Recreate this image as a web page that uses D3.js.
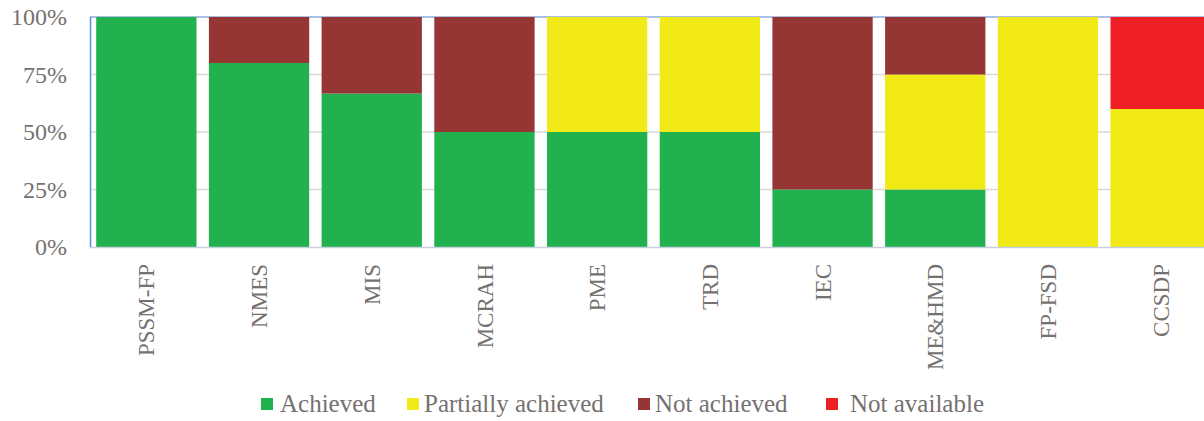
<!DOCTYPE html>
<html><head><meta charset="utf-8">
<script src="https://cdn.jsdelivr.net/npm/d3@7"></script>
<style>body{margin:0;background:#fff}svg{display:block}</style>
</head><body><svg id="c" width="1204" height="421"></svg>
<script>
const categories = ["PSSM-FP","NMES","MIS","MCRAH","PME","TRD","IEC","ME&HMD","FP-FSD","CCSDP"];
const seriesNames = ["Achieved","Partially achieved","Not achieved","Not available"];
const achieved = [100, 80, 66.7, 50, 50, 50, 25, 25, 0, 0];
const partiallyAchieved = [0, 0, 0, 0, 50, 50, 0, 50, 100, 60];
const notAchieved = [0, 20, 33.3, 50, 0, 0, 75, 25, 0, 0];
const notAvailable = [0, 0, 0, 0, 0, 0, 0, 0, 0, 40];
const yTicks = [0, 25, 50, 75, 100];
const colors = ["#21b14e","#f2ea16","#963634","#ee1f25"];

const svg = d3.select("#c");
const font = "'Liberation Serif', serif";
const m = {left: 90, top: 17};
const W = 1127, H = 230;
const g = svg.append("g").attr("transform", `translate(${m.left},${m.top})`);

const x = d3.scaleBand().domain(categories).range([0, W]).paddingInner(0.11).paddingOuter(0.055);
const y = d3.scaleLinear().domain([0, 100]).range([H, 0]);

const rows = categories.map((c, i) => ({cat: c, "Achieved": achieved[i], "Partially achieved": partiallyAchieved[i], "Not achieved": notAchieved[i], "Not available": notAvailable[i]}));
const stack = d3.stack().keys(seriesNames)(rows);

// gridlines
g.append("g").selectAll("line").data(yTicks.filter(t => t > 0)).join("line")
  .attr("x1", 0).attr("x2", W).attr("y1", d => y(d)).attr("y2", d => y(d))
  .attr("stroke", d => d === 100 ? "#8faadc" : "#d9d9d9").attr("stroke-width", d => d === 100 ? 1.5 : 1.3);

g.append("g").selectAll("g").data(stack).join("g")
  .attr("fill", (d, i) => colors[i])
  .selectAll("rect").data(d => d.filter(s => s[1] - s[0] > 0)).join("rect")
  .attr("x", d => x(d.data.cat)).attr("width", x.bandwidth())
  .attr("y", d => y(d[1])).attr("height", d => y(d[0]) - y(d[1]));

// axes lines
g.append("line").attr("x1", 0).attr("x2", W).attr("y1", H + 0.5).attr("y2", H + 0.5).attr("stroke", "#c5cfdf").attr("stroke-width", 1.5);
g.append("line").attr("x1", 0.5).attr("x2", 0.5).attr("y1", 0).attr("y2", H).attr("stroke", "#5b8fd6").attr("stroke-width", 1.5);

// y tick labels
const yAxis = d3.axisLeft(y).tickValues(yTicks).tickFormat(d => d + "%").tickSize(0).tickPadding(23);
const ya = g.append("g").call(yAxis);
ya.select(".domain").remove();
ya.selectAll("text").attr("font-family", font).attr("font-size", 24).attr("fill", "#767171").attr("dy", "0.32em");

// x labels
const xAxis = d3.axisBottom(x).tickSize(0);
const xa = g.append("g").attr("transform", `translate(0,${H})`).call(xAxis);
xa.select(".domain").remove();
xa.selectAll("text").attr("font-family", font).attr("font-size", 23).attr("fill", "#767171")
  .attr("text-anchor", "end").attr("transform", "rotate(-90)").attr("x", -17).attr("y", 0).attr("dy", "0.35em");

// legend
const legX = [261, 407, 638, 826];
const textX = [280, 424, 655, 850];
const leg = svg.append("g");
seriesNames.forEach((s, i) => {
  leg.append("rect").attr("x", legX[i]).attr("y", 398).attr("width", 12).attr("height", 12).attr("fill", colors[i]);
  leg.append("text").attr("x", textX[i]).attr("y", 412).text(s)
    .attr("font-family", font).attr("font-size", 25).attr("fill", "#767171");
});
</script></body></html>
